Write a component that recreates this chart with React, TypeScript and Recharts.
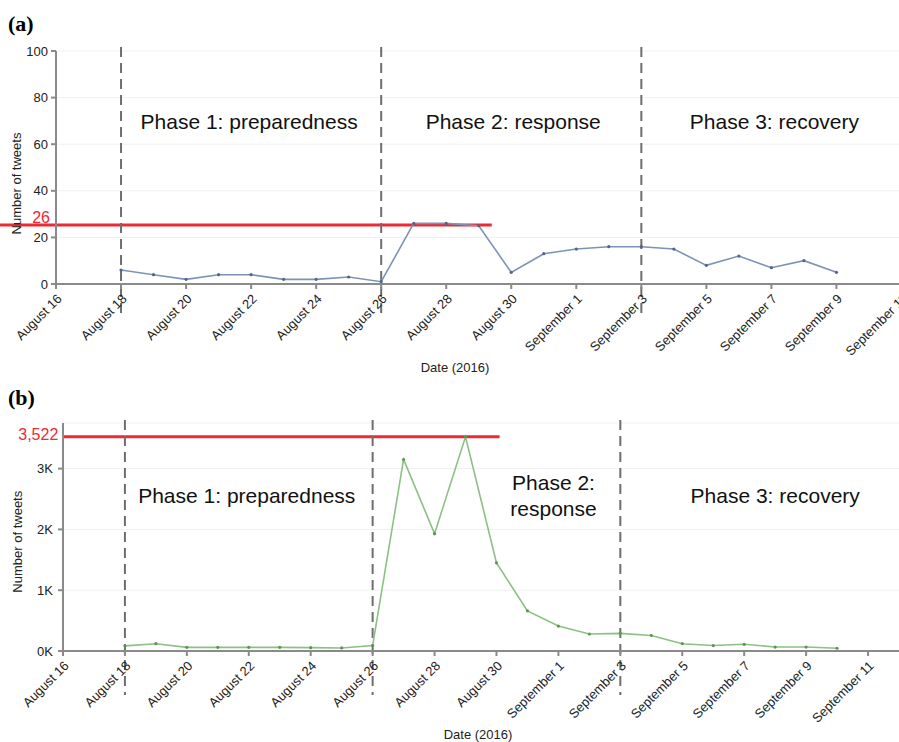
import React from "react";
import { LineChart, Line, XAxis, YAxis, CartesianGrid, ReferenceLine, ReferenceArea } from "recharts";

const FONT = "'Liberation Sans', Arial, Helvetica, sans-serif";

const START = "2016-08-16";
const TICK_DATES = [
  "2016-08-16", "2016-08-18", "2016-08-20", "2016-08-22", "2016-08-24", "2016-08-26", "2016-08-28",
  "2016-08-30", "2016-09-01", "2016-09-03", "2016-09-05", "2016-09-07", "2016-09-09", "2016-09-11",
];
const TICK_LABELS = [
  "August 16", "August 18", "August 20", "August 22", "August 24", "August 26", "August 28",
  "August 30", "September 1", "September 3", "September 5", "September 7", "September 9", "September 11",
];

// panel (a): tweets per day
const DATES_A = [
  "2016-08-18", "2016-08-19", "2016-08-20", "2016-08-21", "2016-08-22", "2016-08-23", "2016-08-24",
  "2016-08-25", "2016-08-26", "2016-08-27", "2016-08-28", "2016-08-29", "2016-08-30", "2016-08-31",
  "2016-09-01", "2016-09-02", "2016-09-03", "2016-09-04", "2016-09-05", "2016-09-06", "2016-09-07",
  "2016-09-08", "2016-09-09",
];
const TWEETS_A = [6, 4, 2, 4, 4, 2, 2, 3, 1, 26, 26, 25, 5, 13, 15, 16, 16, 15, 8, 12, 7, 10, 5];
const Y_TICKS_A = [0, 20, 40, 60, 80, 100];
const PEAK_A = 26;

// panel (b)
const DATES_B = [
  "2016-08-18", "2016-08-19", "2016-08-20", "2016-08-21", "2016-08-22", "2016-08-23", "2016-08-24",
  "2016-08-25", "2016-08-26", "2016-08-27", "2016-08-28", "2016-08-29", "2016-08-30", "2016-08-31",
  "2016-09-01", "2016-09-02", "2016-09-03", "2016-09-04", "2016-09-05", "2016-09-06", "2016-09-07",
  "2016-09-08", "2016-09-09", "2016-09-10",
];
const TWEETS_B = [85, 120, 60, 60, 60, 60, 55, 50, 90, 3150, 1930, 3522, 1450, 660, 410, 280, 290, 255, 120, 90, 110, 65, 65, 45];
const Y_TICKS_B = [0, 1000, 2000, 3000];
const PEAK_B = 3522;

const PHASE_BOUNDS = ["2016-08-18", "2016-08-26", "2016-09-03", "2016-09-11"];
const PHASES_A = [["Phase 1: preparedness"], ["Phase 2: response"], ["Phase 3: recovery"]];
const PHASES_B = [["Phase 1: preparedness"], ["Phase 2:", "response"], ["Phase 3: recovery"]];

const day = (d: string) => (Date.parse(d) - Date.parse(START)) / 86400000;

const dataA = DATES_A.map((d, i) => ({ day: day(d), tweets: TWEETS_A[i] }));
const dataB = DATES_B.map((d, i) => ({ day: day(d), tweets: TWEETS_B[i] }));
const xTicks = TICK_DATES.map(day);

const AXIS = "#8a8a8a";
const RED = "#ec2a33";

const DateTick = ({ x, y, payload }: any) => {
  const i = xTicks.indexOf(payload.value);
  return (
    <g transform={`translate(${x},${y})`}>
      <text textAnchor="end" transform="rotate(-45)" dy="0.71em" fontSize={13} fill="#222" fontFamily={FONT}>
        {TICK_LABELS[i]}
      </text>
    </g>
  );
};

const phaseDash = (up: number, down: number) => (p: any) => (
  <line
    x1={p.x1}
    x2={p.x2}
    y1={Math.min(p.y1, p.y2) - up}
    y2={Math.max(p.y1, p.y2) + down}
    stroke="#6e6e6e"
    strokeWidth={2}
    strokeDasharray="10 6"
  />
);

const phaseLabel = (lines: string[], dx: number, base: number) => (p: any) => {
  const vb = p.viewBox;
  const cx = vb.x + vb.width / 2 + dx;
  return (
    <text textAnchor="middle" fontSize={21} fill="#111" fontFamily={FONT}>
      {lines.map((t, i) => (
        <tspan key={t} x={cx} y={vb.y + base + i * 26}>
          {t}
        </tspan>
      ))}
    </text>
  );
};

const textAt = (value: string, x: number, y: number, rotate = false) => () => (
  <text
    x={x}
    y={y}
    textAnchor="middle"
    fontSize={13}
    fill="#222"
    fontFamily={FONT}
    transform={rotate ? `rotate(-90, ${x}, ${y})` : undefined}
  >
    {value}
  </text>
);

const peakLabel = (value: string, dx: number, dy: number) => (p: any) => (
  <text x={p.viewBox.x + dx} y={p.viewBox.y + dy} textAnchor="end" fontSize={16} fill={RED} fontFamily={FONT}>
    {value}
  </text>
);

const panelLetter = (t: string, top: number) => (
  <div
    style={{
      position: "absolute",
      left: 8,
      top,
      fontFamily: "'Liberation Serif', 'Times New Roman', serif",
      fontWeight: "bold",
      fontSize: 22,
      lineHeight: 1,
    }}
  >
    {t}
  </div>
);

const App: React.FC = () => {
  const dxA = [-2, 2, 3];
  const dxB = [-2, 57, 31];
  const baseB = [80, 67, 80];
  return (
    <div style={{ position: "absolute", left: 0, top: 0, width: 899, height: 742, background: "#fff", overflow: "hidden" }}>
      <div style={{ position: "absolute", left: 0, top: 0, width: 899, height: 380, overflow: "hidden" }}>
        <LineChart width={934} height={380} data={dataA} margin={{ top: 51, right: 0, bottom: 0, left: 0 }}>
          <CartesianGrid vertical={false} stroke="#f0f0f0" />
          <XAxis
            type="number"
            dataKey="day"
            domain={[0, 27]}
            ticks={xTicks}
            interval={0}
            height={96}
            tick={DateTick}
            tickSize={5}
            tickMargin={4}
            stroke={AXIS}
            strokeWidth={2}
            label={textAt("Date (2016)", 455, 372)}
          />
          <YAxis
            domain={[0, 100]}
            ticks={Y_TICKS_A}
            width={56}
            tickSize={5}
            tickMargin={3}
            tick={{ fontSize: 13, fill: "#222", fontFamily: FONT }}
            stroke={AXIS}
            strokeWidth={2}
            label={textAt("Number of tweets", 20.5, 183.5, true)}
          />
          {PHASES_A.map((lines, i) => (
            <ReferenceArea
              key={i}
              x1={day(PHASE_BOUNDS[i])}
              x2={day(PHASE_BOUNDS[i + 1])}
              fill="none"
              stroke="none"
              label={phaseLabel(lines, dxA[i], 78)}
            />
          ))}
          <ReferenceLine
            segment={[{ x: 0, y: PEAK_A }, { x: 13.4, y: PEAK_A }]}
            stroke={RED}
            strokeWidth={3}
            shape={(p: any) => <line x1={0} y1={p.y1 + 1.5} x2={p.x2} y2={p.y2 + 1.5} stroke={RED} strokeWidth={3} />}
            label={peakLabel(String(PEAK_A), -6, -0.5)}
          />
          {PHASE_BOUNDS.slice(0, 3).map((d) => (
            <ReferenceLine key={d} x={day(d)} shape={phaseDash(4, 31)} />
          ))}
          <Line
            type="linear"
            dataKey="tweets"
            stroke="#7d93b5"
            strokeWidth={1.6}
            dot={{ r: 1.6, fill: "#50668a", stroke: "none" }}
            isAnimationActive={false}
          />
        </LineChart>
      </div>
      <div style={{ position: "absolute", left: 0, top: 380, width: 899, height: 362, overflow: "hidden" }}>
        <LineChart width={899} height={362} data={dataB} margin={{ top: 43, right: 0, bottom: 0, left: 0 }}>
          <CartesianGrid vertical={false} stroke="#f0f0f0" />
          <XAxis
            type="number"
            dataKey="day"
            domain={[0, 27]}
            ticks={xTicks}
            interval={0}
            height={91}
            tick={DateTick}
            tickSize={5}
            tickMargin={4}
            stroke={AXIS}
            strokeWidth={2}
            label={textAt("Date (2016)", 478, 359)}
          />
          <YAxis
            domain={[0, 3750]}
            ticks={Y_TICKS_B}
            width={63}
            tickSize={5}
            tickMargin={5}
            tickFormatter={(v: number) => `${v / 1000}K`}
            tick={{ fontSize: 13, fill: "#222", fontFamily: FONT }}
            stroke={AXIS}
            strokeWidth={2}
            label={textAt("Number of tweets", 22.5, 161.7, true)}
          />
          {PHASES_B.map((lines, i) => (
            <ReferenceArea
              key={i}
              x1={day(PHASE_BOUNDS[i])}
              x2={day(PHASE_BOUNDS[i + 1])}
              fill="none"
              stroke="none"
              label={phaseLabel(lines, dxB[i], baseB[i])}
            />
          ))}
          <ReferenceLine
            segment={[{ x: 0, y: PEAK_B }, { x: 14.1, y: PEAK_B }]}
            stroke={RED}
            strokeWidth={3}
            label={peakLabel(PEAK_B.toLocaleString("en-US"), -4.7, 3.4)}
          />
          {PHASE_BOUNDS.slice(0, 3).map((d) => (
            <ReferenceLine key={d} x={day(d)} shape={phaseDash(3, 44)} />
          ))}
          <Line
            type="linear"
            dataKey="tweets"
            stroke="#8cc084"
            strokeWidth={1.6}
            dot={{ r: 1.6, fill: "#5f9553", stroke: "none" }}
            isAnimationActive={false}
          />
        </LineChart>
      </div>
      {panelLetter("(a)", 13)}
      {panelLetter("(b)", 387)}
    </div>
  );
};

export default App;
